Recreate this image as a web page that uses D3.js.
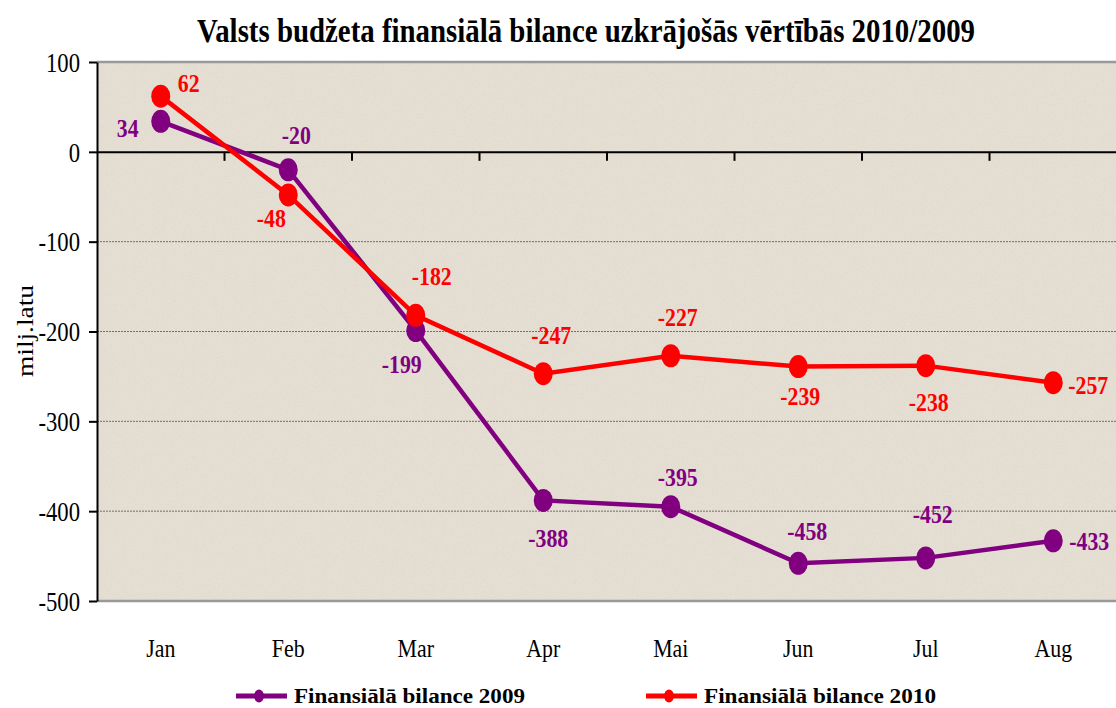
<!DOCTYPE html>
<html><head><meta charset="utf-8">
<script src="https://cdn.jsdelivr.net/npm/d3@7"></script>
<style>body{margin:0;background:#fff}svg{display:block}</style>
</head><body>
<svg id="c" width="1116" height="708"></svg>
<script>
const months = ["Jan","Feb","Mar","Apr","Mai","Jun","Jul","Aug"];
const values2009 = [34,-20,-199,-388,-395,-458,-452,-433];
const values2010 = [62,-48,-182,-247,-227,-239,-238,-257];
const yTicks = [100,0,-100,-200,-300,-400,-500];
const seriesNames = ["Finansiālā bilance 2009","Finansiālā bilance 2010"];
const titleText = "Valsts budžeta finansiālā bilance uzkrājošās vērtībās 2010/2009";
const yLabel = "milj.latu";
// label offsets relative to the point (style only)
const labelOffsets2009 = [[-33,16],[8,-26],[-14,42],[5,47],[7,-21],[9,-23],[7,-35],[36,9]];
const labelOffsets2010 = [[28,-4],[-17,32],[16,-30],[8,-30],[7,-30],[2,38],[3,45],[35,11]];

const FONT = "'Liberation Serif','Times New Roman',serif";
const svg = d3.select("#c");
const L=97, T=62, R=1117, B=601;
const x = d3.scaleBand().domain(months).range([L,R]);
const y = d3.scaleLinear().domain([-500,100]).range([B,T]);
const cx = m => x(m) + x.bandwidth()/2;

function squeeze(sel, f){
  sel.each(function(){
    const l = this.getComputedTextLength();
    this.setAttribute("textLength", l*f);
    this.setAttribute("lengthAdjust","spacingAndGlyphs");
  });
}

// background with faint speckle texture
const defs = svg.append("defs");
const flt = defs.append("filter").attr("id","tex").attr("x",0).attr("y",0).attr("width","100%").attr("height","100%");
flt.append("feTurbulence").attr("type","fractalNoise").attr("baseFrequency",0.9).attr("numOctaves",2).attr("seed",3).attr("result","n");
flt.append("feColorMatrix").attr("in","n").attr("type","matrix")
  .attr("values","0 0 0 0 0.6  0 0 0 0 0.56  0 0 0 0 0.5  0 0 0 -3 1.5").attr("result","s");
flt.append("feComposite").attr("in","s").attr("in2","SourceGraphic").attr("operator","in");
svg.append("rect").attr("x",L).attr("y",T).attr("width",R-L).attr("height",B-T).attr("fill","#e5ded3");
svg.append("rect").attr("x",L).attr("y",T).attr("width",R-L).attr("height",B-T).attr("fill","#e5ded3").attr("filter","url(#tex)").attr("opacity",0.25);

// grid
svg.selectAll(".grid").data([-100,-200,-300,-400]).join("line")
  .attr("x1",L).attr("x2",R).attr("y1",d=>y(d)).attr("y2",d=>y(d))
  .attr("stroke","#6e6e6e").attr("stroke-width",1).attr("stroke-dasharray","2,1");
// top & bottom borders
svg.append("line").attr("x1",L).attr("x2",R).attr("y1",y(100)).attr("y2",y(100)).attr("stroke","#999").attr("stroke-width",2.5);
svg.append("line").attr("x1",L).attr("x2",R).attr("y1",y(-500)).attr("y2",y(-500)).attr("stroke","#999").attr("stroke-width",2.5);

// y axis
const ya = svg.append("g").attr("transform",`translate(${L},0)`)
  .call(d3.axisLeft(y).tickValues(yTicks).tickSize(8).tickSizeOuter(0).tickFormat(d=>String(d)));
ya.select(".domain").attr("stroke","#000").attr("stroke-width",2);
ya.selectAll(".tick line").attr("stroke","#000").attr("stroke-width",2);
const yt = ya.selectAll(".tick text").attr("font-family",FONT).attr("font-size",27).attr("fill","#000").attr("x",-17).attr("dy","0.34em");
squeeze(yt,0.84);

// x axis at zero
const xa = svg.append("g").attr("transform",`translate(0,${y(0)})`)
  .call(d3.axisBottom(x).tickSize(0).tickSizeOuter(0));
xa.select(".domain").attr("stroke","#000").attr("stroke-width",2);
xa.selectAll(".tick text").remove();
svg.selectAll(".bt").data(months.slice(1)).join("line")
  .attr("x1",d=>x(d)).attr("x2",d=>x(d)).attr("y1",y(0)).attr("y2",y(0)+9)
  .attr("stroke","#000").attr("stroke-width",2);
// category labels
const cl = svg.selectAll(".cl").data(months).join("text")
  .attr("x",d=>cx(d)).attr("y",657).attr("text-anchor","middle")
  .attr("font-family",FONT).attr("font-size",26).text(d=>d);
squeeze(cl,0.84);

// title
svg.append("text").attr("x",586).attr("y",42).attr("text-anchor","middle")
  .attr("font-family",FONT).attr("font-weight","bold").attr("font-size",34)
  .attr("textLength",778).attr("lengthAdjust","spacingAndGlyphs").text(titleText);
// y label
svg.append("text").attr("transform","translate(33,331) rotate(-90)").attr("text-anchor","middle")
  .attr("font-family",FONT).attr("font-size",24)
  .attr("textLength",92).attr("lengthAdjust","spacingAndGlyphs").text(yLabel);

const line = d3.line().x((d,i)=>cx(months[i])).y(d=>y(d));
const series = [
  {vals:values2009,color:"#800080",offs:labelOffsets2009},
  {vals:values2010,color:"#ff0000",offs:labelOffsets2010}];
series.forEach(s=>{
  svg.append("path").datum(s.vals).attr("d",line).attr("fill","none").attr("stroke",s.color).attr("stroke-width",4.5);
  svg.selectAll(null).data(s.vals).join("ellipse")
    .attr("cx",(d,i)=>cx(months[i])).attr("cy",d=>y(d))
    .attr("rx",9.5).attr("ry",11.5).attr("fill",s.color);
});
series.forEach(s=>{
  const t = svg.selectAll(null).data(s.vals).join("text")
    .attr("x",(d,i)=>cx(months[i])+s.offs[i][0])
    .attr("y",(d,i)=>y(d)+s.offs[i][1])
    .attr("text-anchor","middle").attr("font-family",FONT).attr("font-weight","bold")
    .attr("font-size",26).attr("fill",s.color).text(d=>d);
  squeeze(t,0.84);
});

// legend
const leg = [{x:236,color:"#800080",name:seriesNames[0],tl:231},{x:646,color:"#ff0000",name:seriesNames[1],tl:232}];
leg.forEach(l=>{
  svg.append("line").attr("x1",l.x).attr("x2",l.x+51).attr("y1",696).attr("y2",696).attr("stroke",l.color).attr("stroke-width",5);
  svg.append("ellipse").attr("cx",l.x+23).attr("cy",696).attr("rx",5).attr("ry",6.5).attr("fill",l.color);
  svg.append("text").attr("x",l.x+58).attr("y",703).attr("font-family",FONT).attr("font-weight","bold")
    .attr("font-size",22).attr("textLength",l.tl).attr("lengthAdjust","spacingAndGlyphs").text(l.name);
});
</script>
</body></html>
